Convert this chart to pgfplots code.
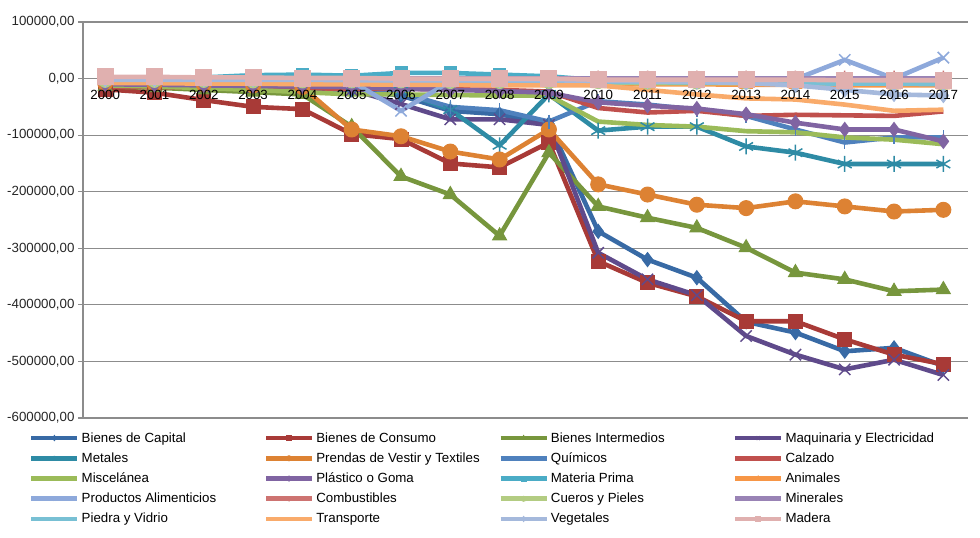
\documentclass[border=0pt]{standalone}
\usepackage{fontspec}
\setmainfont{Liberation Sans}
\usepackage{pgfplots}
\usepackage{pgfplotstable}
\pgfplotsset{compat=1.18}

\definecolor{cCap}{HTML}{386AA5}
\definecolor{cCons}{HTML}{A83A37}
\definecolor{cInter}{HTML}{77963D}
\definecolor{cMaq}{HTML}{5F4A8B}
\definecolor{cMet}{HTML}{2E8BA5}
\definecolor{cPren}{HTML}{DD8233}
\definecolor{cQui}{HTML}{4F81BD}
\definecolor{cCalz}{HTML}{C0504D}
\definecolor{cMisc}{HTML}{9BBB59}
\definecolor{cPlas}{HTML}{8064A2}
\definecolor{cMat}{HTML}{4BACC6}
\definecolor{cAnim}{HTML}{F79646}
\definecolor{cAlim}{HTML}{8EA9DB}
\definecolor{cComb}{HTML}{CD7371}
\definecolor{cCuer}{HTML}{B3CC82}
\definecolor{cMinr}{HTML}{9983B5}
\definecolor{cPied}{HTML}{78C0D4}
\definecolor{cTrans}{HTML}{F9AB6B}
\definecolor{cVeg}{HTML}{A5B9DC}
\definecolor{cMad}{HTML}{E0B0AF}
\definecolor{gridgray}{HTML}{8C8C8C}

\pgfplotstableread{
year cap cons inter maq met pren qui calz misc plas mat anim alim comb cuer minr pied trans veg mad
2000 -10000 -19000 -14000 -12000 -4000 -8000 -8000 -14000 -12000 -10000 0 -5000 -2000 0 -5000 0 -3000 -8000 -2000 3000
2001 -11000 -25000 -16000 -13000 -4000 -9000 -8000 -15000 -14000 -11000 1000 -5000 -2000 0 -5000 0 -3000 -8000 -2000 3000
2002 -13000 -38000 -20000 -14000 -4000 -10000 -9000 -16000 -17000 -12000 2000 -6000 -2000 0 -5000 0 -3000 -9000 -2000 2000
2003 -15000 -50000 -24000 -15000 -3000 -12000 -10000 -16000 -20000 -13000 6000 -6000 -2000 0 -6000 0 -3000 -9000 -2000 2000
2004 -17000 -54000 -28000 -16000 -3000 -15000 -11000 -17000 -24000 -14000 7000 -6000 -2000 0 -6000 0 -3000 -10000 -2000 1000
2005 -20000 -98000 -85000 -20000 -5000 -90000 -13000 -18000 -28000 -15000 5000 -7000 -5000 0 -6000 0 -4000 -10000 -3000 1000
2006 -30000 -107000 -173000 -45000 -22000 -102000 -25000 -18000 -28000 -18000 10000 -7000 -57000 0 -6000 0 -4000 -11000 -3000 0
2007 -57000 -150000 -205000 -72000 -55000 -129000 -50000 -19000 -29000 -20000 10000 -8000 -5000 0 -7000 0 -4000 -11000 -3000 0
2008 -63000 -157000 -278000 -72000 -118000 -143000 -56000 -20000 -30000 -22000 7000 -8000 -3000 0 -7000 0 -5000 -12000 -3000 0
2009 -80000 -113000 -131000 -82000 -28000 -90000 -76000 -23000 -30000 -25000 4000 -8000 -3000 0 -7000 0 -5000 -12000 -3000 0
2010 -270000 -323000 -226000 -308000 -92000 -187000 -40000 -52000 -76000 -42000 -3000 -10000 -2000 0 -7000 0 -6000 -12000 -4000 -2000
2011 -320000 -361000 -246000 -355000 -85000 -205000 -46000 -60000 -82000 -48000 -3000 -10000 -2000 0 -8000 0 -6000 -20000 -5000 -2000
2012 -352000 -385000 -264000 -383000 -85000 -223000 -55000 -57000 -85000 -53000 -3000 -10000 -2000 0 -8000 0 -7000 -28000 -6000 -2000
2013 -430000 -429000 -299000 -455000 -120000 -229000 -66000 -66000 -93000 -63000 -4000 -11000 -2000 0 -8000 0 -7000 -35000 -8000 -2000
2014 -449000 -429000 -343000 -488000 -131000 -217000 -90000 -64000 -95000 -78000 -4000 -11000 -1000 0 -8000 0 -8000 -37000 -12000 -2000
2015 -482000 -461000 -355000 -514000 -151000 -226000 -113000 -65000 -104000 -90000 -5000 -12000 33000 0 -9000 0 -9000 -46000 -20000 -3000
2016 -476000 -488000 -376000 -497000 -151000 -235000 -104000 -66000 -108000 -90000 -5000 -12000 0 0 -9000 0 -9000 -57000 -28000 -3000
2017 -508000 -505000 -373000 -524000 -151000 -232000 -104000 -58000 -116000 -111000 -5000 -12000 37000 0 -9000 0 -10000 -55000 -30000 -3000
}\data

\newcommand{\legent}[1]{\addlegendentry{\makebox[180pt][l]{#1}}}

\pgfplotsset{
  base/.style={
    at={(0,0)}, anchor=south west,
    scale only axis, width=885pt, height=396pt,
    font=\fontsize{13.3pt}{15pt}\selectfont,
    xmin=1999.55, xmax=2017.5,
    ymin=-600000, ymax=100000,
  },
}

\begin{document}
\begin{tikzpicture}
\begin{axis}[
  base,
  axis x line*=middle, axis y line*=left,
  axis line style={gridgray, line width=1.2pt, -},
  xtick={2000,2001,...,2017}, xticklabels={},
  ytick={-600000,-500000,...,100000},
  y tick label style={/pgf/number format/.cd, fixed, fixed zerofill, precision=2, use comma, 1000 sep={}, assume math mode=true},
  scaled y ticks=false,
  tick label style={text=black!85},
  x tick style={draw=none},
  y tick style={gridgray, line width=1.2pt},
  major tick length=5pt,
  tick align=outside,
  ymajorgrids, grid style={gridgray, line width=1.2pt},
  clip=false,
  every axis plot/.append style={line width=4.6pt},
  legend columns=4,
  legend cell align=left,
  legend style={at={(-0.0645,-0.026)}, anchor=north west, draw=none, fill=none,
    font=\fontsize{13.3pt}{15pt}\selectfont, row sep=5pt,
    nodes={inner sep=2pt}},
  legend image code/.code={%
    \draw[mark repeat=2, mark phase=2, #1, line width=4.6pt, mark size=2.5pt]
      plot coordinates {(0pt,0pt) (23pt,0pt) (46pt,0pt)};},
]
\addplot[cCap, mark=diamond*, mark size=7pt, mark options={line width=1pt}] table[x=year,y=cap]{\data};
\legent{Bienes de Capital}
\addplot[cCons, mark=square*, mark size=7pt, mark options={line width=1pt}] table[x=year,y=cons]{\data};
\legent{Bienes de Consumo}
\addplot[cInter, mark=triangle*, mark size=8pt, mark options={line width=1pt}] table[x=year,y=inter]{\data};
\legent{Bienes Intermedios}
\addplot[cMaq, mark=x, mark size=8pt, mark options={line width=1.5pt}] table[x=year,y=maq]{\data};
\legent{Maquinaria y Electricidad}
\addplot[cMet, mark=asterisk, mark size=8pt, mark options={line width=1.5pt}] table[x=year,y=met]{\data};
\legent{Metales}
\addplot[cPren, mark=*, mark size=7.5pt, mark options={line width=1pt}] table[x=year,y=pren]{\data};
\legent{Prendas de Vestir y Textiles}
\addplot[cQui, mark=|, mark size=7pt, mark options={line width=1.5pt}] table[x=year,y=qui]{\data};
\legent{Químicos}
\addplot[cCalz] table[x=year,y=calz]{\data};
\legent{Calzado}
\addplot[cMisc] table[x=year,y=misc]{\data};
\legent{Miscelánea}
\addplot[cPlas, mark=diamond*, mark size=7pt, mark options={line width=1pt}] table[x=year,y=plas]{\data};
\legent{Plástico o Goma}
\addplot[cMat, mark=square*, mark size=6pt, mark options={line width=1pt}] table[x=year,y=mat]{\data};
\legent{Materia Prima}
\addplot[cAnim, mark=triangle*, mark size=7pt, mark options={line width=1pt}] table[x=year,y=anim]{\data};
\legent{Animales}
\addplot[cAlim, mark=x, mark size=8pt, mark options={line width=1.5pt}] table[x=year,y=alim]{\data};
\legent{Productos Alimenticios}
\addplot[cComb, mark=asterisk, mark size=8pt, mark options={line width=1.5pt}] table[x=year,y=comb]{\data};
\legent{Combustibles}
\addplot[cCuer, mark=*, mark size=6pt, mark options={line width=1pt}] table[x=year,y=cuer]{\data};
\legent{Cueros y Pieles}
\addplot[cMinr, mark=|, mark size=7pt, mark options={line width=1.5pt}] table[x=year,y=minr]{\data};
\legent{Minerales}
\addplot[cPied] table[x=year,y=pied]{\data};
\legent{Piedra y Vidrio}
\addplot[cTrans] table[x=year,y=trans]{\data};
\legent{Transporte}
\addplot[cVeg, mark=diamond*, mark size=7pt, mark options={line width=1pt}] table[x=year,y=veg]{\data};
\legent{Vegetales}
\addplot[cMad, mark=square*, mark size=8pt, mark options={line width=1pt}] table[x=year,y=mad]{\data};
\legent{Madera}
\end{axis}
% second, empty axis: only the year labels, drawn over the lines
\begin{axis}[
  base,
  axis x line*=middle, hide y axis,
  axis line style={draw=none},
  xtick={2000,2001,...,2017},
  xticklabel={\pgfmathprintnumber[1000 sep={}, assume math mode=true]{\tick}},
  x tick label style={yshift=-8pt, text=black},
  x tick style={draw=none},
]
\end{axis}
\pgfresetboundingbox
\useasboundingbox (-83pt,-120pt) rectangle (897pt,418pt);
\end{tikzpicture}
\end{document}
